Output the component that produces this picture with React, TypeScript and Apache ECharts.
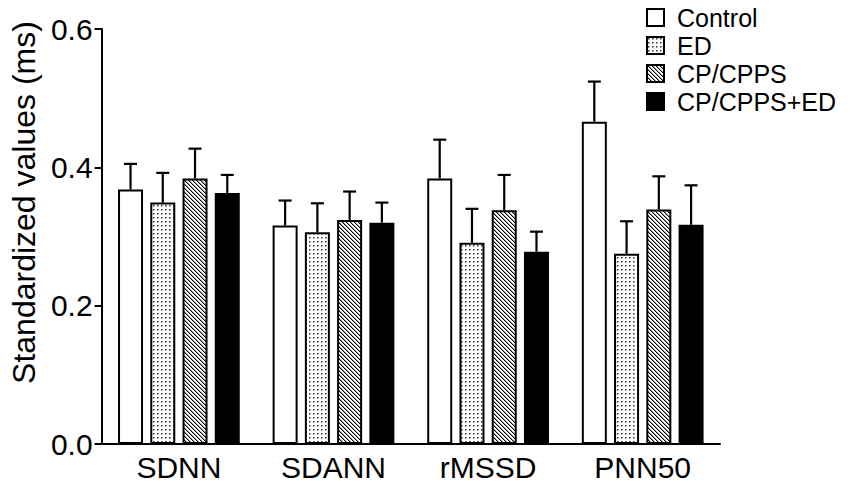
import React, { useEffect, useRef } from "react";
import * as echarts from "echarts";

const categories = ["SDNN", "SDANN", "rMSSD", "PNN50"];
const groups = ["Control", "ED", "CP/CPPS", "CP/CPPS+ED"];
const controlMean = [0.368, 0.316, 0.384, 0.466];
const controlErr = [0.037, 0.036, 0.056, 0.058];
const edMean = [0.349, 0.306, 0.291, 0.275];
const edErr = [0.043, 0.042, 0.049, 0.047];
const cpMean = [0.384, 0.324, 0.338, 0.339];
const cpErr = [0.043, 0.041, 0.051, 0.048];
const cpEdMean = [0.363, 0.32, 0.278, 0.317];
const cpEdErr = [0.026, 0.029, 0.029, 0.057];
const yTicks = [0, 0.2, 0.4, 0.6];

const FONT = "'Liberation Sans', Arial, Helvetica, sans-serif";
const BAR_W = 25;
const BAR_GAP = 0.29;

function dotPattern() {
  const c = document.createElement("canvas");
  c.width = 4;
  c.height = 4;
  const ctx = c.getContext("2d")!;
  ctx.fillStyle = "#fff";
  ctx.fillRect(0, 0, 4, 4);
  ctx.fillStyle = "#333";
  ctx.fillRect(1, 1, 1.5, 1.5);
  return c;
}

function stripePattern() {
  const c = document.createElement("canvas");
  c.width = 4;
  c.height = 4;
  const ctx = c.getContext("2d")!;
  ctx.fillStyle = "#fff";
  ctx.fillRect(0, 0, 4, 4);
  for (let x = 0; x < 4; x++) {
    for (let y = 0; y < 4; y++) {
      const m = (((x - y) % 4) + 4) % 4;
      if (m === 0) {
        ctx.fillStyle = "#000";
        ctx.fillRect(x, y, 1, 1);
      } else if (m === 1) {
        ctx.fillStyle = "#999";
        ctx.fillRect(x, y, 1, 1);
      }
    }
  }
  return c;
}

export default function App() {
  const ref = useRef<HTMLDivElement>(null);
  useEffect(() => {
    if (!ref.current) return;
    const chart = echarts.init(ref.current, undefined, { renderer: "svg" });
    const fills: any[] = [
      "#fff",
      { image: dotPattern(), repeat: "repeat" },
      { image: stripePattern(), repeat: "repeat" },
      "#000",
    ];
    const means = [controlMean, edMean, cpMean, cpEdMean];
    const errs = [controlErr, edErr, cpErr, cpEdErr];
    const pitch = BAR_W * (1 + BAR_GAP);

    const barSeries = groups.map((g, i) => ({
      name: g,
      type: "bar",
      barWidth: BAR_W,
      barGap: BAR_GAP * 100 + "%",
      data: means[i],
      itemStyle: { color: fills[i], borderColor: "#000", borderWidth: 2 },
      z: 3,
    }));

    const errSeries = groups.map((g, i) => ({
      name: g + " err",
      type: "custom",
      z: 2,
      data: categories.map((_, k) => [k, means[i][k], errs[i][k]]),
      encode: { x: 0, y: 1 },
      renderItem: (params: any, api: any) => {
        const cat = api.value(0);
        const m = api.value(1);
        const e = api.value(2);
        const base = api.coord([cat, m]);
        const top = api.coord([cat, m + e]);
        const x = base[0] + (i - 1.5) * pitch;
        return {
          type: "group",
          children: [
            {
              type: "line",
              shape: { x1: x, y1: base[1], x2: x, y2: top[1] },
              style: { stroke: "#000", lineWidth: 2.2 },
            },
            {
              type: "line",
              shape: { x1: x - 6.5, y1: top[1], x2: x + 6.5, y2: top[1] },
              style: { stroke: "#000", lineWidth: 2.2 },
            },
          ],
        };
      },
    }));

    chart.setOption({
      animation: false,
      backgroundColor: "#fff",
      textStyle: { fontFamily: FONT },
      grid: { left: 95, right: 131, top: 29, bottom: 40, containLabel: false },
      legend: {
        data: groups,
        orient: "vertical",
        left: 646,
        top: 5,
        padding: 0,
        itemWidth: 17,
        itemHeight: 17,
        itemGap: 3,
        icon: "rect",
        textStyle: {
          fontSize: 25,
          lineHeight: 23,
          color: "#000",
          fontFamily: FONT,
          padding: [0, 0, 0, 8],
        },
      },
      xAxis: {
        type: "category",
        data: categories,
        axisLine: { lineStyle: { color: "#000", width: 2 } },
        axisTick: { alignWithLabel: true, length: 5, lineStyle: { color: "#000", width: 2 } },
        axisLabel: { fontSize: 30, color: "#000", margin: 8, fontFamily: FONT },
      },
      yAxis: {
        type: "value",
        min: yTicks[0],
        max: yTicks[yTicks.length - 1],
        interval: 0.2,
        name: "Standardized values (ms)",
        nameLocation: "middle",
        nameRotate: 90,
        nameGap: 60,
        nameTextStyle: {
          fontSize: 32,
          color: "#000",
          fontFamily: FONT,
          padding: [0, 0, 0, 68],
        },
        axisLine: { show: true, lineStyle: { color: "#000", width: 2 } },
        axisTick: { show: true, length: 7, lineStyle: { color: "#000", width: 2 } },
        splitLine: { show: false },
        axisLabel: {
          fontSize: 30,
          color: "#000",
          margin: 9,
          fontFamily: FONT,
          formatter: (v: number) => v.toFixed(1),
        },
      },
      series: [...errSeries, ...barSeries],
    });
    return () => chart.dispose();
  }, []);
  return (
    <div
      ref={ref}
      style={{ position: "fixed", left: 0, top: 0, width: 851, height: 484 }}
    />
  );
}
